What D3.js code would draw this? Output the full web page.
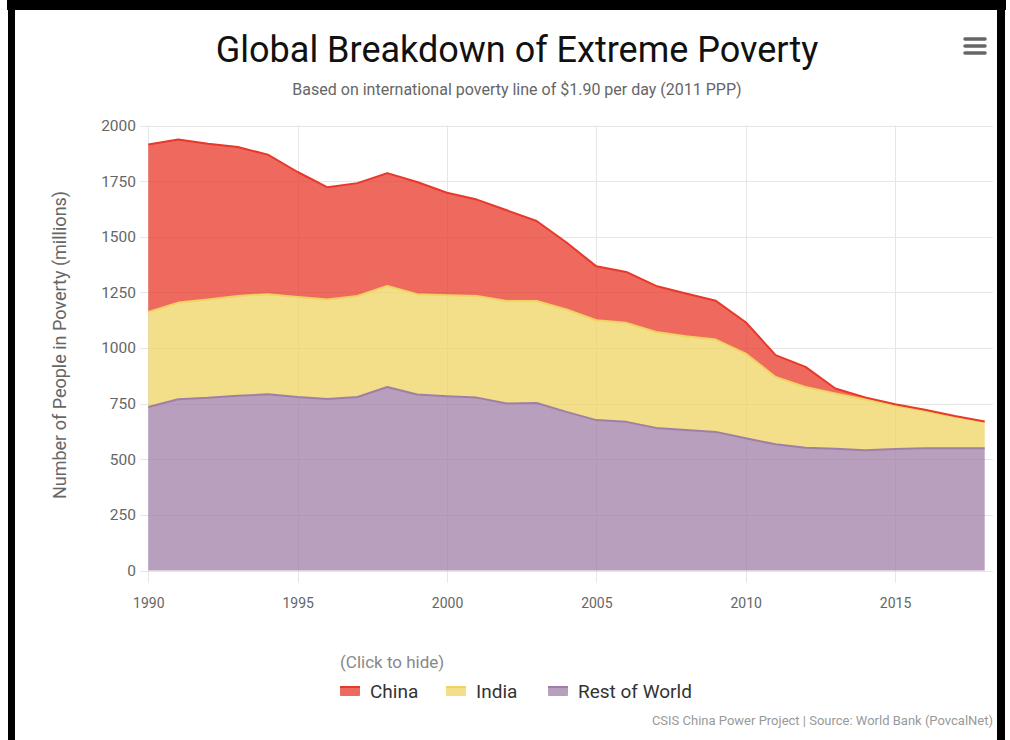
<!DOCTYPE html>
<html>
<head>
<meta charset="utf-8">
<script src="https://cdn.jsdelivr.net/npm/d3@7/dist/d3.min.js"></script>
<style>
  html, body { margin: 0; padding: 0; background: #fff; }
  svg { display: block; }
  text { font-family: Roboto, "Open Sans", sans-serif; }
</style>
</head>
<body>
<svg id="chart" width="1010" height="740"></svg>
<script>
// People living below $1.90/day, millions
const years = [1990, 1991, 1992, 1993, 1994, 1995, 1996, 1997, 1998, 1999,
               2000, 2001, 2002, 2003, 2004, 2005, 2006, 2007, 2008, 2009,
               2010, 2011, 2012, 2013, 2014, 2015, 2016, 2017, 2018];
const china = [753, 733, 700, 669, 627, 562, 504, 507, 507, 504,
               461, 433, 408, 360, 301, 242, 229, 207, 192, 174,
               141, 98, 90, 22, 9, 6, 5, 3, 2];
const india = [427, 434, 442, 449, 450, 449, 447, 454, 454, 451,
               454, 457, 460, 458, 460, 449, 445, 431, 422, 415,
               381, 303, 273, 249, 228, 195, 167, 141, 118];
const restOfWorld = [735, 770, 776, 785, 792, 780, 771, 780, 825, 791,
                     783, 777, 751, 753, 713, 676, 668, 641, 631, 623,
                     594, 567, 552, 547, 541, 546, 550, 550, 550];

const yTicks = [0, 250, 500, 750, 1000, 1250, 1500, 1750, 2000];
const xTicks = [1990, 1995, 2000, 2005, 2010, 2015];

const seriesInfo = [
  { key: "china", name: "China", color: "#e8382a" },
  { key: "india", name: "India", color: "#efd363" },
  { key: "rest",  name: "Rest of World", color: "#a07fa7" }
];

const rows = years.map((y, i) => ({ year: y, china: china[i], india: india[i], rest: restOfWorld[i] }));

const svg = d3.select("#chart");
const W = 1010, H = 740;

// page frame
svg.append("rect").attr("x", 0).attr("y", 0).attr("width", W).attr("height", H).attr("fill", "#fff");
svg.append("rect").attr("x", 7).attr("y", 0).attr("width", 999).attr("height", 10).attr("fill", "#000");
svg.append("rect").attr("x", 8).attr("y", 0).attr("width", 7).attr("height", H).attr("fill", "#000");
svg.append("rect").attr("x", 997).attr("y", 0).attr("width", 8).attr("height", H).attr("fill", "#000");

const plotLeft = 148, plotRight = 993, plotTop = 125.5, plotBottom = 570.5;

const x = d3.scaleLinear().domain([1990, 2018]).range([148.3, 984.7]);
const y = d3.scaleLinear().domain([0, 2000]).range([plotBottom, plotTop]);

// grid
const grid = svg.append("g").attr("stroke", "#e6e6e6").attr("stroke-width", 1);
yTicks.forEach(t => {
  grid.append("line")
    .attr("x1", plotLeft - 8).attr("x2", plotRight)
    .attr("y1", Math.round(y(t)) + 0.5).attr("y2", Math.round(y(t)) + 0.5);
});
xTicks.forEach(t => {
  grid.append("line")
    .attr("x1", Math.round(x(t)) + 0.5).attr("x2", Math.round(x(t)) + 0.5)
    .attr("y1", plotTop).attr("y2", plotBottom + 12);
});

// stacked areas: rest at the bottom, then India, then China
const stack = d3.stack().keys(["rest", "india", "china"]);
const layers = stack(rows);
const colorOf = k => seriesInfo.find(s => s.key === k).color;

const area = d3.area()
  .x(d => x(d.data.year))
  .y0(d => y(d[0]))
  .y1(d => y(d[1]));
const topLine = d3.line()
  .x(d => x(d.data.year))
  .y(d => y(d[1]));

const g = svg.append("g");
layers.forEach(layer => {
  g.append("path")
    .datum(layer)
    .attr("d", area)
    .attr("fill", colorOf(layer.key))
    .attr("fill-opacity", 0.75);
});
layers.forEach(layer => {
  g.append("path")
    .datum(layer)
    .attr("d", topLine)
    .attr("fill", "none")
    .attr("stroke", colorOf(layer.key))
    .attr("stroke-width", 2)
    .attr("stroke-linejoin", "round");
});

// y axis labels
const yAxis = d3.axisLeft(y).tickValues(yTicks).tickSize(0).tickPadding(0).tickFormat(d3.format("d"));
const yg = svg.append("g").attr("transform", "translate(136,0)").call(yAxis);
yg.select(".domain").remove();
yg.selectAll("text").attr("fill", "#666").style("font-size", "15.5px").attr("dy", "0.32em");

// x axis labels
const xAxis = d3.axisBottom(x).tickValues(xTicks).tickSize(0).tickPadding(0).tickFormat(d3.format("d"));
const xg = svg.append("g").attr("transform", "translate(0,598)").call(xAxis);
xg.select(".domain").remove();
xg.selectAll("text").attr("fill", "#666").style("font-size", "14px").attr("dy", "0.71em");

// axis title
svg.append("text")
  .attr("transform", "translate(66,345) rotate(-90)")
  .attr("text-anchor", "middle")
  .attr("fill", "#666")
  .style("font-size", "18px")
  .text("Number of People in Poverty (millions)");

// title & subtitle
svg.append("text")
  .attr("x", 517).attr("y", 62)
  .attr("text-anchor", "middle")
  .attr("fill", "#111")
  .style("font-size", "36px")
  .text("Global Breakdown of Extreme Poverty");
svg.append("text")
  .attr("x", 517).attr("y", 95)
  .attr("text-anchor", "middle")
  .attr("fill", "#666")
  .style("font-size", "16px")
  .text("Based on international poverty line of $1.90 per day (2011 PPP)");

// menu icon
const menu = svg.append("g").attr("stroke", "#666").attr("stroke-width", 3.5).attr("stroke-linecap", "round");
[39, 46, 53].forEach(v => menu.append("line").attr("x1", 965).attr("x2", 985).attr("y1", v).attr("y2", v));

// legend
svg.append("text")
  .attr("x", 340).attr("y", 668)
  .attr("fill", "#888")
  .style("font-size", "17px")
  .text("(Click to hide)");
const legendX = [340, 446, 548];
seriesInfo.forEach((s, i) => {
  const lg = svg.append("g").attr("transform", `translate(${legendX[i]},691)`);
  lg.append("rect").attr("x", 0).attr("y", -5).attr("width", 20).attr("height", 10)
    .attr("rx", 1).attr("fill", s.color).attr("fill-opacity", 0.75);
  lg.append("rect").attr("x", 0).attr("y", -5).attr("width", 20).attr("height", 2)
    .attr("fill", s.color);
  lg.append("text").attr("x", 30).attr("y", 7)
    .attr("fill", "#333").style("font-size", "19px").text(s.name);
});

// credits
svg.append("text")
  .attr("x", 993).attr("y", 725)
  .attr("text-anchor", "end")
  .attr("fill", "#999")
  .style("font-size", "13px")
  .text("CSIS China Power Project | Source: World Bank (PovcalNet)");
</script>
</body>
</html>
